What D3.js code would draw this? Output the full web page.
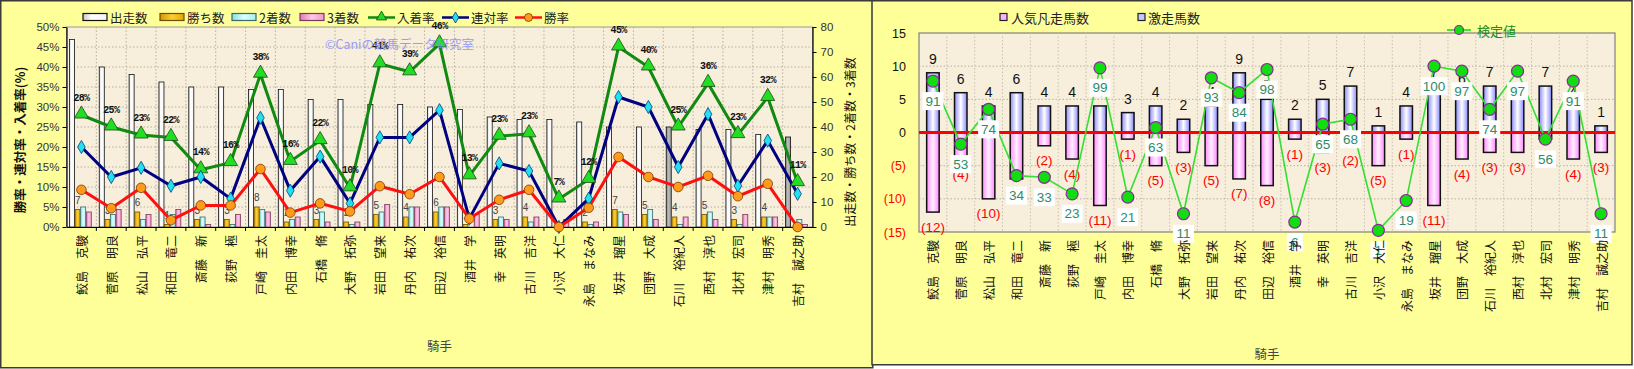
<!DOCTYPE html>
<html><head><meta charset="utf-8">
<script src="https://cdn.jsdelivr.net/npm/d3@7"></script>
<style>
body{margin:0;background:#fff;}
svg text{font-family:"Noto Sans CJK JP","Noto Sans",sans-serif;}
</style>
</head><body>
<svg id="c" width="1634" height="369"></svg>
<script>
// ---------- DATA ----------
const jockeys = ["鮫島　克駿","菅原　明良","松山　弘平","和田　竜二","斎藤　新","荻野　極","戸崎　圭太","内田　博幸","石橋　脩","大野　拓弥","岩田　望来","丹内　祐次","田辺　裕信","酒井　学","幸　英明","古川　吉洋","小沢　大仁","永島　まなみ","坂井　瑠星","団野　大成","石川　裕紀人","西村　淳也","北村　宏司","津村　明秀","吉村　誠之助"];
const starts  = [75,64,61,58,56,56,55,55,51,51,49,49,48,47,44,43,43,42,40,40,40,39,39,37,36];
const wins    = [7,3,6,1,3,3,8,2,3,2,5,4,6,1,3,4,0,2,7,5,4,5,3,4,0];
const seconds = [8,5,3,5,4,1,7,3,6,1,6,8,8,0,4,2,0,1,6,7,1,6,1,4,3];
const thirds  = [6,7,5,7,1,5,6,4,2,2,9,8,8,5,3,4,3,2,5,3,4,3,5,4,1];
const highlightedStarts = ["石川　裕紀人","吉村　誠之助"];
const winRate   = [9.3,4.7,9.8,1.7,5.4,5.4,14.5,3.6,5.9,3.9,10.2,8.2,12.5,2.1,6.8,9.3,0,4.8,17.5,12.5,10.0,12.8,7.7,10.8,0];
const rentaiRate= [20.0,12.5,14.8,10.3,12.5,7.1,27.3,9.1,17.6,5.9,22.4,22.4,29.2,2.1,15.9,14.0,0,7.1,32.5,30.0,15.0,28.2,10.3,21.6,8.3];
const placeRate = [28.0,25.0,23.0,22.4,14.3,16.1,38.2,16.4,21.6,9.8,40.8,38.8,45.8,12.8,22.7,23.3,7.0,11.9,45.0,40.0,25.0,35.9,23.1,32.4,11.1];
const pctTicks = [0,5,10,15,20,25,30,35,40,45,50];
const cntTicks = [0,10,20,30,40,50,60,70,80];

const gekisou = [9,6,4,6,4,4,4,3,4,2,4,9,5,2,5,7,1,4,7,6,7,7,7,4,1];
const bonsou  = [12,4,10,7,2,4,11,1,5,3,5,7,8,1,3,2,5,1,11,4,3,3,1,4,3];
const kentei  = [91,53,74,34,33,23,99,21,63,11,93,84,98,6,65,68,1,19,100,97,74,97,56,91,11];
const rTicks = [-15,-10,-5,0,5,10,15];

// ---------- SETUP ----------
const svg = d3.select("#c");
const defs = svg.append("defs");
function hgrad(id, stops){
  const g = defs.append("linearGradient").attr("id",id).attr("x1","0%").attr("x2","100%").attr("y1","0%").attr("y2","0%");
  stops.forEach(s=>g.append("stop").attr("offset",s[0]).attr("stop-color",s[1]));
}
hgrad("gStart",[["0%","#c8c8c8"],["35%","#ffffff"],["100%","#f4f4f4"]]);
hgrad("gStartHi",[["0%","#777"],["40%","#bdbdbd"],["100%","#9a9a9a"]]);
hgrad("gWin",[["0%","#d49a00"],["50%","#ffcc33"],["100%","#e0a800"]]);
hgrad("gSec",[["0%","#88dede"],["50%","#dcffff"],["100%","#a8eeee"]]);
hgrad("gThr",[["0%","#e07ab8"],["50%","#ffc8e8"],["100%","#ee99cc"]]);
hgrad("gPos",[["0%","#8a8aff"],["50%","#ffffff"],["100%","#8a8aff"]]);
hgrad("gNeg",[["0%","#ff88ff"],["50%","#fff0ff"],["100%","#ff88ff"]]);

// panels
svg.append("rect").attr("x",0.75).attr("y",0.75).attr("width",872).attr("height",367).attr("fill","#ffff99").attr("stroke","#3a3a3a").attr("stroke-width",1.5);
svg.append("rect").attr("x",872).attr("y",0.75).attr("width",760).attr("height",364).attr("fill","#ffff99").attr("stroke","#3a3a3a").attr("stroke-width",1.5);

// ================= LEFT CHART =================
const L = svg.append("g");
const xL = d3.scaleBand().domain(jockeys).range([66.5,812.5]);
const yP = d3.scaleLinear().domain([0,50]).range([227,27]);
const yC = d3.scaleLinear().domain([0,80]).range([227,27]);
const bw = xL.bandwidth();

L.append("rect").attr("x",66.5).attr("y",27).attr("width",746).attr("height",200).attr("fill","#f7eedb").attr("stroke","#999");
// grid
L.append("g").selectAll("line").data(pctTicks.slice(1,-1)).join("line")
  .attr("x1",66.5).attr("x2",812.5).attr("y1",d=>yP(d)).attr("y2",d=>yP(d))
  .attr("stroke","#b8b0a0").attr("stroke-dasharray","1.5,2");
L.append("g").selectAll("line").data(jockeys.slice(1)).join("line")
  .attr("x1",d=>xL(d)).attr("x2",d=>xL(d)).attr("y1",27).attr("y2",227)
  .attr("stroke","#b8b0a0").attr("stroke-dasharray","1.5,2");

// bars
const sub = d3.scaleBand().domain(["s","w","2","3"]).range([0,22.5]).paddingInner(0);
const barData = jockeys.map((j,i)=>({j,i,s:starts[i],w:wins[i],"2":seconds[i],"3":thirds[i]}));
const fills = {s:"url(#gStart)",w:"url(#gWin)","2":"url(#gSec)","3":"url(#gThr)"};
const strokes = {s:"#111",w:"#6a5000","2":"#3a6a6a","3":"#7a3a5a"};
const grp = L.append("g").selectAll("g").data(barData).join("g")
  .attr("transform",d=>`translate(${xL(d.j)+bw/2-12},0)`);
["s","w","2","3"].forEach(k=>{
  grp.append("rect")
    .attr("x",sub(k)).attr("width",sub.bandwidth()-0.6)
    .attr("y",d=>yC(d[k])).attr("height",d=>227-yC(d[k]))
    .attr("fill",d=> (k==="s" && highlightedStarts.includes(d.j)) ? "url(#gStartHi)" : fills[k])
    .attr("stroke",strokes[k]).attr("stroke-width",0.8);
});
// win count labels
grp.filter(d=>d.w>0).append("text")
  .attr("x",sub("w")+sub.bandwidth()/2).attr("y",d=>yC(d.w)-6)
  .attr("text-anchor","middle").attr("font-size",10).attr("fill","#444")
  .style("font-family","Liberation Sans, sans-serif").text(d=>d.w);

// axes
const axL = L.append("g").attr("transform","translate(66.5,0)")
  .call(d3.axisLeft(yP).tickValues(pctTicks).tickFormat(d=>d+"%").tickSize(4).tickSizeOuter(0));
axL.selectAll("text").attr("font-size",11.5).attr("fill","#333").style("font-family","Liberation Sans, sans-serif");
const axR = L.append("g").attr("transform","translate(812.5,0)")
  .call(d3.axisRight(yC).tickValues(cntTicks).tickSize(4).tickSizeOuter(0));
axR.selectAll("text").attr("font-size",11.5).attr("fill","#333").attr("x",8).style("font-family","Liberation Sans, sans-serif");
L.append("g").attr("transform","translate(0,227)")
  .call(d3.axisBottom(xL).tickSize(0).tickFormat(""));
L.append("g").selectAll("line").data(jockeys.slice(1)).join("line")
  .attr("x1",d=>xL(d)).attr("x2",d=>xL(d)).attr("y1",227).attr("y2",231).attr("stroke","#000");
L.selectAll(".domain").attr("stroke","#000").attr("stroke-width",1.2);

// x labels (rotated)
L.append("g").selectAll("text").data(jockeys).join("text")
  .attr("transform",d=>`translate(${xL(d)+bw/2},235) rotate(-90)`)
  .attr("text-anchor","end").attr("dominant-baseline","central")
  .attr("font-size",12).attr("fill","#111").text(d=>d);

// lines
const lineGen = (arr)=>d3.line().x((d,i)=>xL(jockeys[i])+bw/2).y(d=>yP(d))(arr);
L.append("path").attr("d",lineGen(placeRate)).attr("fill","none").attr("stroke","#108a10").attr("stroke-width",3);
L.append("path").attr("d",lineGen(rentaiRate)).attr("fill","none").attr("stroke","#000080").attr("stroke-width",3);
L.append("path").attr("d",lineGen(winRate)).attr("fill","none").attr("stroke","#ff1010").attr("stroke-width",3);
// markers
const tri = d3.symbol().type(d3.symbolTriangle).size(85);
const dia = d3.symbol().type(d3.symbolDiamond).size(50);
L.append("g").selectAll("path").data(placeRate).join("path")
  .attr("d",tri).attr("transform",(d,i)=>`translate(${xL(jockeys[i])+bw/2},${yP(d)-1})`)
  .attr("fill","#22dd22").attr("stroke","#1a4a1a").attr("stroke-width",0.8);
L.append("g").selectAll("path").data(rentaiRate).join("path")
  .attr("d",dia).attr("transform",(d,i)=>`translate(${xL(jockeys[i])+bw/2},${yP(d)})`)
  .attr("fill","#22e0ee").attr("stroke","#004080").attr("stroke-width",0.8);
L.append("g").selectAll("circle").data(winRate).join("circle")
  .attr("cx",(d,i)=>xL(jockeys[i])+bw/2).attr("cy",d=>yP(d)).attr("r",4.8)
  .attr("fill","#ff9a1a").attr("stroke","#7a3a00").attr("stroke-width",0.8);
// place rate labels
L.append("g").selectAll("text").data(placeRate).join("text")
  .attr("x",(d,i)=>xL(jockeys[i])+bw/2).attr("y",d=>yP(d)-17)
  .attr("text-anchor","middle").attr("dominant-baseline","central")
  .attr("font-size",10).attr("font-weight","bold").attr("fill","#111")
  .attr("letter-spacing",-0.7).style("font-family","Liberation Mono, monospace")
  .text(d=>Math.round(d)+"%");

// watermark
L.append("text").attr("x",325).attr("y",43).attr("dominant-baseline","central")
  .attr("font-size",12.5).attr("fill","#8c8cff").attr("opacity",0.85).text("©Caniの競馬データ研究室");

// axis titles
L.append("text").attr("transform","translate(19,140) rotate(-90)").attr("text-anchor","middle")
  .attr("dominant-baseline","central").attr("font-size",12.5).attr("font-weight","bold").attr("fill","#111")
  .text("勝率・連対率・入着率(%)");
L.append("text").attr("transform","translate(849,142) rotate(-90)").attr("text-anchor","middle")
  .attr("dominant-baseline","central").attr("font-size",12).attr("fill","#111")
  .text("出走数・勝ち数・2着数・3着数");
L.append("text").attr("x",439.5).attr("y",345).attr("text-anchor","middle").attr("dominant-baseline","central")
  .attr("font-size",12.5).attr("fill","#444").text("騎手");

// legend
const legBars = [["出走数","url(#gStart)","#111",83],["勝ち数","url(#gWin)","#6a5000",160],["2着数","url(#gSec)","#3a6a6a",232],["3着数","url(#gThr)","#7a3a5a",300]];
legBars.forEach(([t,f,s,x])=>{
  L.append("rect").attr("x",x).attr("y",13.5).attr("width",24).attr("height",7).attr("fill",f).attr("stroke",s).attr("stroke-width",1.2);
  L.append("text").attr("x",x+27).attr("y",17.5).attr("dominant-baseline","central").attr("font-size",12.5).attr("fill","#222").text(t);
});
const legLines = [["入着率","#108a10",368,"tri"],["連対率","#000080",442,"dia"],["勝率","#ff1010",515,"cir"]];
legLines.forEach(([t,c,x,m])=>{
  L.append("line").attr("x1",x).attr("x2",x+27).attr("y1",17.5).attr("y2",17.5).attr("stroke",c).attr("stroke-width",2.5);
  if(m==="tri") L.append("path").attr("d",d3.symbol().type(d3.symbolTriangle).size(45)).attr("transform",`translate(${x+13.5},17)`).attr("fill","#22dd22").attr("stroke","#1a4a1a").attr("stroke-width",0.8);
  if(m==="dia") L.append("path").attr("d",d3.symbol().type(d3.symbolDiamond).size(35)).attr("transform",`translate(${x+13.5},17.5)`).attr("fill","#22e0ee").attr("stroke","#004080").attr("stroke-width",0.8);
  if(m==="cir") L.append("circle").attr("cx",x+13.5).attr("cy",17.5).attr("r",4).attr("fill","#ff9a1a").attr("stroke","#7a3a00").attr("stroke-width",0.8);
  L.append("text").attr("x",x+29).attr("y",17.5).attr("dominant-baseline","central").attr("font-size",12.5).attr("fill","#222").text(t);
});

// ================= RIGHT CHART =================
const R = svg.append("g");
const xR = d3.scaleBand().domain(jockeys).range([919,1615]);
const yR = d3.scaleLinear().domain([-15,15]).range([232,33]);
const yK = d3.scaleLinear().domain([0,120]).range([232,33]);
const rbw = xR.bandwidth();

R.append("rect").attr("x",919).attr("y",33).attr("width",696).attr("height",199).attr("fill","#f7eedb").attr("stroke","#808080").attr("stroke-width",1.2);
R.append("g").selectAll("line").data([-10,-5,5,10]).join("line")
  .attr("x1",919).attr("x2",1615).attr("y1",d=>yR(d)).attr("y2",d=>yR(d))
  .attr("stroke","#b8b0a0").attr("stroke-dasharray","1.5,2");
R.append("g").selectAll("line").data(jockeys.slice(1)).join("line")
  .attr("x1",d=>xR(d)).attr("x2",d=>xR(d)).attr("y1",33).attr("y2",232)
  .attr("stroke","#c8c0b0").attr("stroke-dasharray","1.5,2");

const rAx = R.append("g").attr("transform","translate(919,0)")
  .call(d3.axisLeft(yR).tickValues(rTicks).tickSize(0).tickPadding(13).tickFormat(d=>d<0?`(${-d})`:d));
rAx.select(".domain").remove();
rAx.selectAll("text").attr("font-size",12.5).attr("fill",d=>d<0?"#ff0000":"#111").style("font-family","Liberation Sans, sans-serif");

const rbW = 12.5;
// positive bars
R.append("g").selectAll("rect").data(gekisou).join("rect")
  .attr("x",(d,i)=>xR(jockeys[i])+rbw/2-rbW/2).attr("width",rbW)
  .attr("y",d=>yR(d)).attr("height",d=>yR(0)-yR(d))
  .attr("fill","url(#gPos)").attr("stroke","#111").attr("stroke-width",1.5);
// negative bars
R.append("g").selectAll("rect").data(bonsou).join("rect")
  .attr("x",(d,i)=>xR(jockeys[i])+rbw/2-rbW/2).attr("width",rbW)
  .attr("y",yR(0)).attr("height",d=>yR(-d)-yR(0))
  .attr("fill","url(#gNeg)").attr("stroke","#111").attr("stroke-width",1.5);
// labels
R.append("g").selectAll("text").data(gekisou).join("text")
  .attr("x",(d,i)=>xR(jockeys[i])+rbw/2).attr("y",d=>yR(d)-14)
  .attr("text-anchor","middle").attr("dominant-baseline","central").attr("font-size",14).attr("fill","#111")
  .style("font-family","Liberation Sans, sans-serif").text(d=>d);
R.append("g").selectAll("text").data(bonsou).join("text")
  .attr("x",(d,i)=>xR(jockeys[i])+rbw/2).attr("y",d=>yR(-d)+15)
  .attr("text-anchor","middle").attr("dominant-baseline","central").attr("font-size",13.5).attr("fill","#ff0000")
  .style("font-family","Liberation Sans, sans-serif").text(d=>`(${d})`);
// zero line
R.append("line").attr("x1",919).attr("x2",1615).attr("y1",yR(0)).attr("y2",yR(0)).attr("stroke","#ff0000").attr("stroke-width",3);
// kentei line
R.append("path").attr("d",d3.line().x((d,i)=>xR(jockeys[i])+rbw/2).y(d=>yK(d))(kentei))
  .attr("fill","none").attr("stroke","#33e033").attr("stroke-width",1.6);
R.append("g").selectAll("circle").data(kentei).join("circle")
  .attr("cx",(d,i)=>xR(jockeys[i])+rbw/2).attr("cy",d=>yK(d)).attr("r",6)
  .attr("fill","#11dd11").attr("stroke","#8a2a9a").attr("stroke-width",1.2);
const kl = R.append("g").selectAll("g").data(kentei).join("g")
  .attr("transform",(d,i)=>`translate(${xR(jockeys[i])+rbw/2},${yK(d)+20})`);
kl.append("rect").attr("x",d=>d>=100?-13.5:(d>=10?-10.5:-8)).attr("y",-9)
  .attr("width",d=>d>=100?27:(d>=10?21:16)).attr("height",18).attr("fill","#fff");
kl.append("text").attr("text-anchor","middle").attr("dominant-baseline","central")
  .attr("font-size",13.5).attr("fill","#2e8b6a").style("font-family","Liberation Sans, sans-serif").text(d=>d);

// x labels
R.append("g").selectAll("text").data(jockeys).join("text")
  .attr("transform",d=>`translate(${xR(d)+rbw/2},240) rotate(-90)`)
  .attr("text-anchor","end").attr("dominant-baseline","central")
  .attr("font-size",12).attr("fill","#111").text(d=>d);
R.append("text").attr("x",1267).attr("y",353).attr("text-anchor","middle").attr("dominant-baseline","central")
  .attr("font-size",12.5).attr("fill","#444").text("騎手");

// legend right
R.append("rect").attr("x",1000).attr("y",13.5).attr("width",7).attr("height",7).attr("fill","#ffb0ff").attr("stroke","#222").attr("stroke-width",1.2);
R.append("text").attr("x",1011).attr("y",17.5).attr("dominant-baseline","central").attr("font-size",13).attr("fill","#222").text("人気凡走馬数");
R.append("rect").attr("x",1138).attr("y",13.5).attr("width",7).attr("height",7).attr("fill","#c0c8ff").attr("stroke","#222").attr("stroke-width",1.2);
R.append("text").attr("x",1148).attr("y",17.5).attr("dominant-baseline","central").attr("font-size",13).attr("fill","#222").text("激走馬数");
R.append("line").attr("x1",1447).attr("x2",1471).attr("y1",30).attr("y2",30).attr("stroke","#33e033").attr("stroke-width",1.8);
R.append("circle").attr("cx",1459).attr("cy",30).attr("r",4.5).attr("fill","#11dd11").attr("stroke","#8a2a9a").attr("stroke-width",1.2);
R.append("text").attr("x",1477).attr("y",30).attr("dominant-baseline","central").attr("font-size",13).attr("fill","#1a8a1a").text("検定値");
</script>
</body></html>
